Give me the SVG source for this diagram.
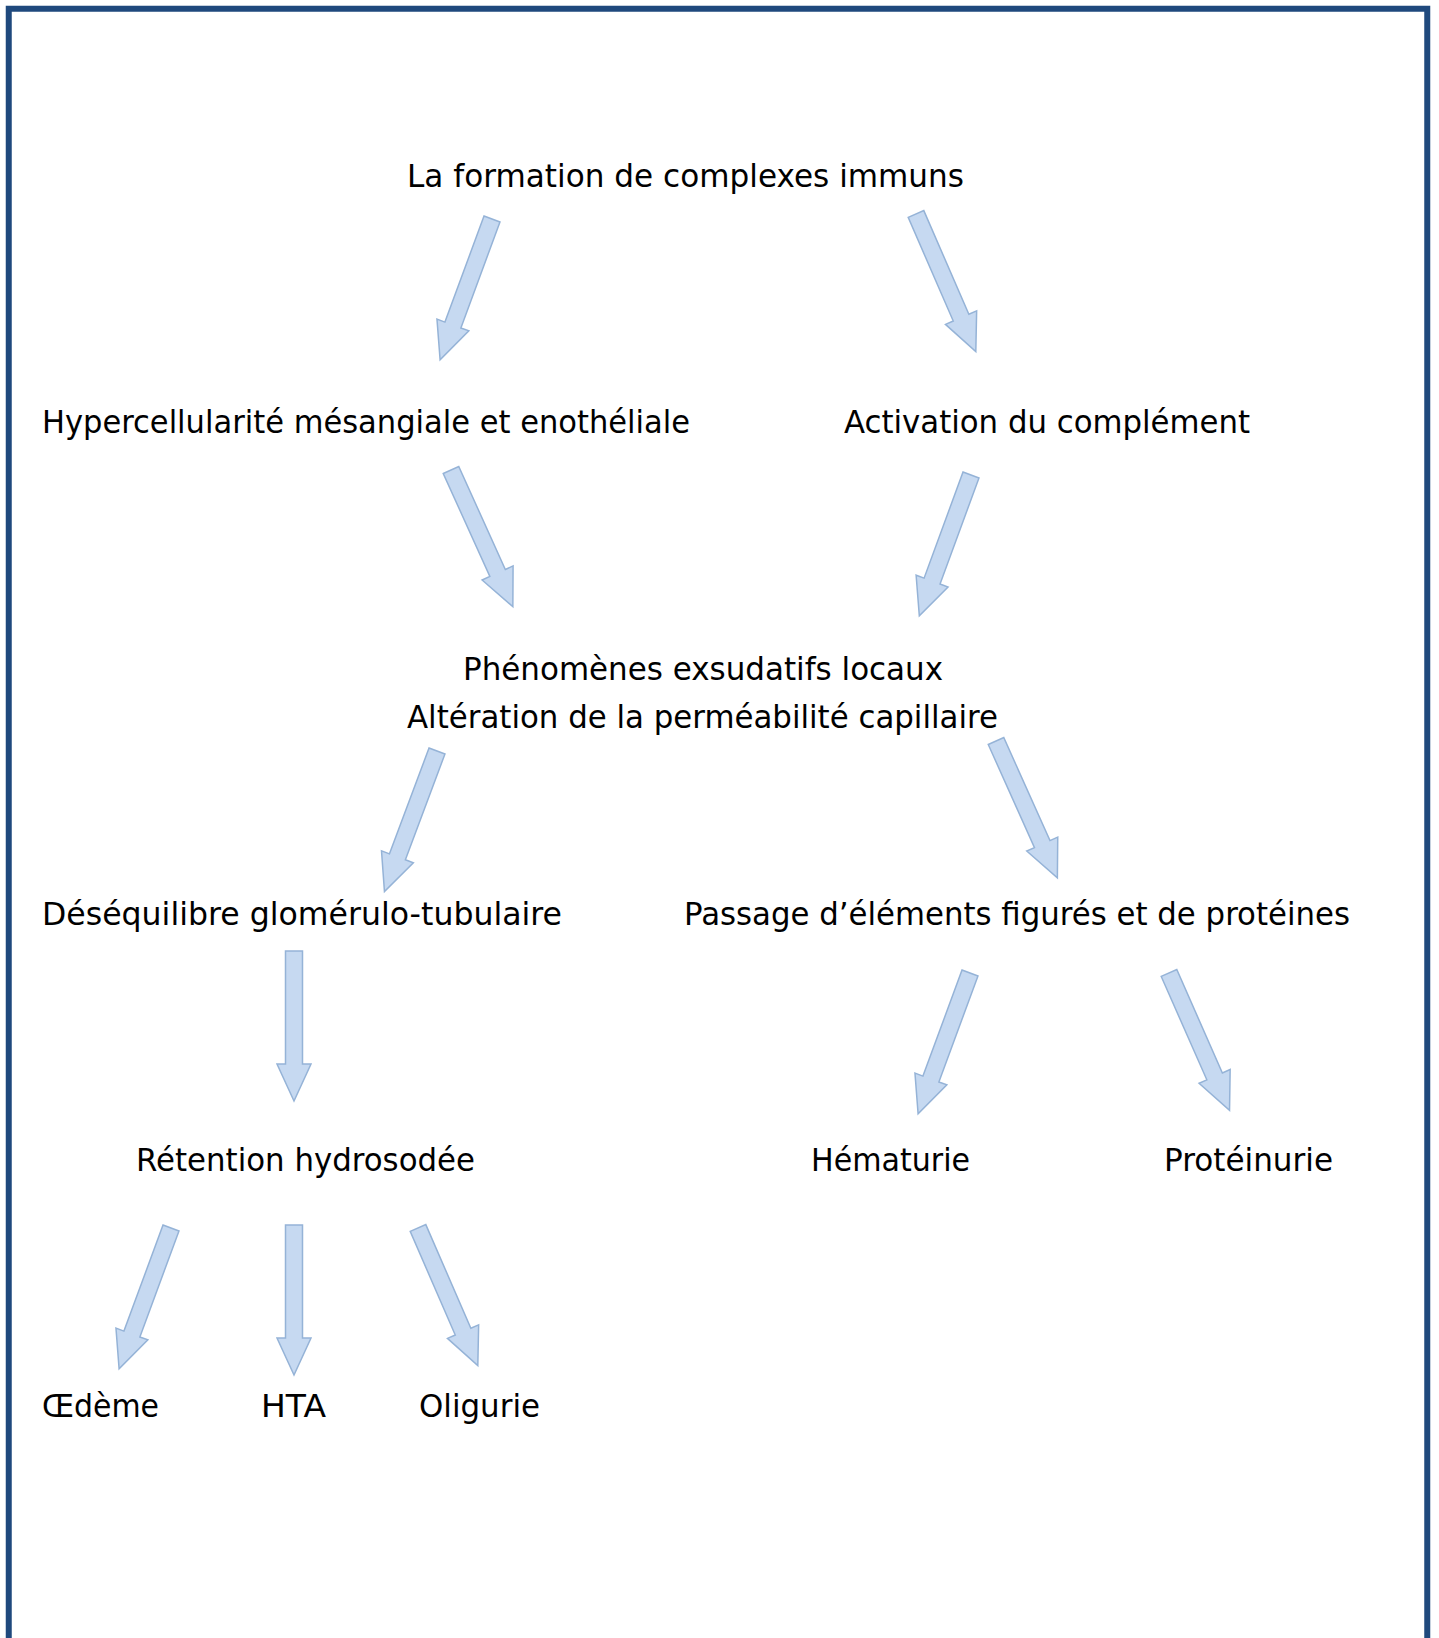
<svg xmlns="http://www.w3.org/2000/svg" xmlns:xlink="http://www.w3.org/1999/xlink" width="1439" height="1638" viewBox="0 0 1439 1638">
<style>
.t{font-family:"DejaVu Sans","Liberation Sans",sans-serif;font-size:32px;fill:#000}
.a{fill:#C6D9F1;stroke:#95B3D7;stroke-width:1.5;stroke-linejoin:miter}
</style>
<defs>
<path id="arr" d="M-8.5,0 L8.5,0 L8.5,113 L17,113 L0,150 L-17,113 L-8.5,113 Z"/>
</defs>
<rect x="0" y="0" width="1439" height="1638" fill="#fff"/>
<rect x="8.75" y="8.75" width="1418.5" height="1700" fill="none" stroke="#1F497D" stroke-width="6"/>
<g id="connectors">
<use xlink:href="#arr" class="a" transform="translate(492,219) rotate(20.24)"/>
<use xlink:href="#arr" class="a" transform="translate(916,214) rotate(-23.5)"/>
<use xlink:href="#arr" class="a" transform="translate(451,470) rotate(-24.35)"/>
<use xlink:href="#arr" class="a" transform="translate(971,475) rotate(20.15)"/>
<use xlink:href="#arr" class="a" transform="translate(437,751) rotate(20.5)"/>
<use xlink:href="#arr" class="a" transform="translate(996,741) rotate(-24.15)"/>
<use xlink:href="#arr" class="a" transform="translate(294,951)"/>
<use xlink:href="#arr" class="a" transform="translate(970,973) rotate(20.24)"/>
<use xlink:href="#arr" class="a" transform="translate(1169,973) rotate(-23.8)"/>
<use xlink:href="#arr" class="a" transform="translate(171,1228) rotate(20.24)"/>
<use xlink:href="#arr" class="a" transform="translate(294,1225)"/>
<use xlink:href="#arr" class="a" transform="translate(418,1228) rotate(-23.5)"/>
</g>
<g id="n1"><text class="t" x="407" y="187" textLength="557" lengthAdjust="spacingAndGlyphs">La formation de complexes immuns</text></g>
<g id="n2"><text class="t" x="42" y="433" textLength="648" lengthAdjust="spacingAndGlyphs">Hypercellularité mésangiale et enothéliale</text></g>
<g id="n3"><text class="t" x="844" y="433" textLength="406" lengthAdjust="spacingAndGlyphs">Activation du complément</text></g>
<g id="n4"><text class="t" x="463" y="680" textLength="480" lengthAdjust="spacingAndGlyphs">Phénomènes exsudatifs locaux</text>
<text class="t" x="407" y="728" textLength="591" lengthAdjust="spacingAndGlyphs">Altération de la perméabilité capillaire</text></g>
<g id="n5"><text class="t" x="42" y="925" textLength="520" lengthAdjust="spacingAndGlyphs">Déséquilibre glomérulo-tubulaire</text></g>
<g id="n6"><text class="t" x="684" y="925" textLength="666" lengthAdjust="spacingAndGlyphs">Passage d’éléments figurés et de protéines</text></g>
<g id="n7"><text class="t" x="136" y="1171" textLength="339" lengthAdjust="spacingAndGlyphs">Rétention hydrosodée</text></g>
<g id="n8"><text class="t" x="811" y="1171" textLength="159" lengthAdjust="spacingAndGlyphs">Hématurie</text></g>
<g id="n9"><text class="t" x="1164" y="1171" textLength="169" lengthAdjust="spacingAndGlyphs">Protéinurie</text></g>
<g id="n10"><text class="t" x="42" y="1417" textLength="117" lengthAdjust="spacingAndGlyphs">Œdème</text></g>
<g id="n11"><text class="t" x="261" y="1417" textLength="65" lengthAdjust="spacingAndGlyphs">HTA</text></g>
<g id="n12"><text class="t" x="419" y="1417" textLength="121" lengthAdjust="spacingAndGlyphs">Oligurie</text></g>
</svg>
